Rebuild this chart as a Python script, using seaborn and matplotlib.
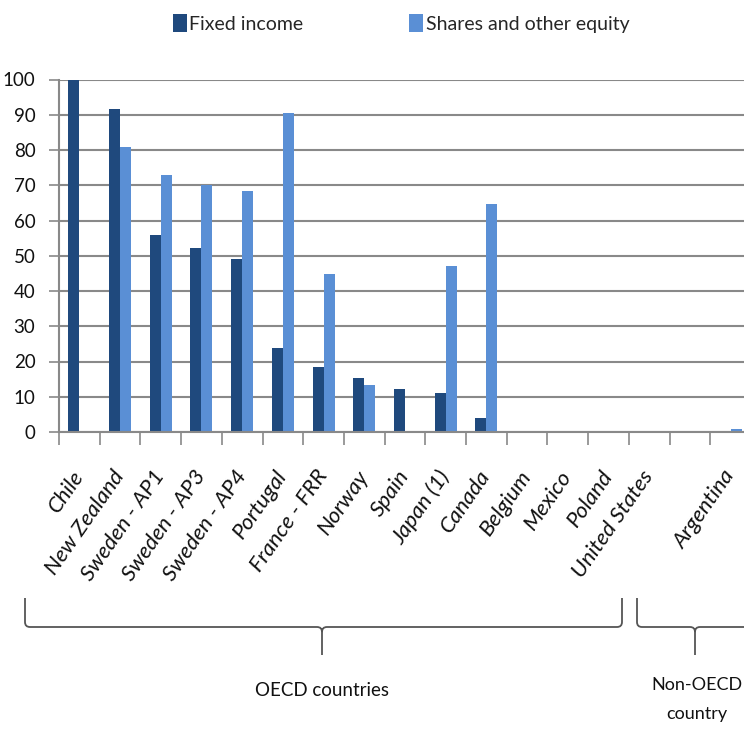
import numpy as np
import pandas as pd
import matplotlib
matplotlib.use("Agg")
import matplotlib.pyplot as plt
from matplotlib.path import Path
from matplotlib.patches import PathPatch
import seaborn as sns

# Pension fund asset allocation (% of total portfolio)
countries = ["Chile", "New Zealand", "Sweden - AP1", "Sweden - AP3", "Sweden - AP4",
             "Portugal", "France - FRR", "Norway", "Spain", "Japan (1)", "Canada",
             "Belgium", "Mexico", "Poland", "United States", " ", "Argentina"]
fixed_income = [100, 91.7, 56.0, 52.2, 49.1, 23.9, 18.5, 15.3, 12.2, 11.0, 4.0,
                0, 0, 0, 0, 0, 0]
shares_equity = [0, 80.9, 72.9, 70.0, 68.5, 90.5, 44.8, 13.3, 0, 47.0, 64.8,
                 0, 0, 0, 0, 0, 0.8]
series_names = ["Fixed income", "Shares and other equity"]
series_colors = ["#1f497d", "#5a8fd5"]
y_ticks = list(range(0, 101, 10))
group_labels = ["OECD countries", "Non-OECD\ncountry"]

df = pd.DataFrame({
    "country": countries * 2,
    "series": [series_names[0]] * len(countries) + [series_names[1]] * len(countries),
    "value": fixed_income + shares_equity,
})

sns.set_style("white")
plt.rcParams["font.family"] = ["Lato", "DejaVu Sans"]

W, H = 744, 732
fig = plt.figure(figsize=(W / 100, H / 100), dpi=100)
ax_left, ax_right, ax_top, ax_bottom = 59, 751, 79.5, 432
ax = fig.add_axes([ax_left / W, 1 - ax_bottom / H,
                   (ax_right - ax_left) / W, (ax_bottom - ax_top) / H])

sns.barplot(data=df, x="country", y="value", hue="series", order=countries,
            hue_order=series_names, palette=series_colors, width=0.54,
            linewidth=0, saturation=1, errorbar=None, ax=ax)

for bar in ax.patches:
    bar.set_clip_on(False)

n = len(countries)
ax.set_xlim(-0.5, n - 0.5)
ax.set_ylim(0, 100)
ax.set_yticks(y_ticks)
ax.set_xlabel("")
ax.set_ylabel("")

grid_col = "#898989"
ax.yaxis.grid(True, color=grid_col, linewidth=1.5)
ax.set_axisbelow(True)
for side in ["top", "right"]:
    ax.spines[side].set_visible(False)
for side in ["left", "bottom"]:
    ax.spines[side].set_color(grid_col)
    ax.spines[side].set_linewidth(1.5)

ax.tick_params(axis="y", which="major", length=7, width=1.2, color=grid_col,
               labelsize=13.5, pad=10, labelcolor="#111111", left=True)
ax.set_xticks(np.arange(-0.5, n, 1), minor=True)
ax.tick_params(axis="x", which="minor", length=9, width=1.2, color=grid_col,
               direction="out", bottom=True)
ax.tick_params(axis="x", which="major", length=0, pad=29, labelsize=16,
               labelcolor="#111111")
ax.set_xticks(range(n))
ax.set_xticklabels(countries, rotation=55, ha="right", va="center",
                   rotation_mode="anchor", style="italic")

# legend across the top
handles, labels = ax.get_legend_handles_labels()
ax.get_legend().remove()
fig.legend(handles, labels, loc="upper left",
           bbox_to_anchor=(165 / W, 1 - 6 / H), ncol=2, frameon=False,
           fontsize=14, handlelength=0.72, handleheight=1.1,
           handletextpad=0.12, columnspacing=5.45, borderaxespad=0)


def fig_xy(px, py):
    return (px / W, 1 - py / H)


def brace(x0, x1, xc, ytop, ymid, ytip, r=5):
    pts = [(x0, ytop), (x0, ymid - r), (x0, ymid), (x0 + r, ymid),
           (xc - r, ymid), (xc, ymid), (xc, ymid + r), (xc, ytip),
           (xc, ymid + r), (xc, ymid), (xc + r, ymid),
           (x1 - r, ymid), (x1, ymid), (x1, ymid - r), (x1, ytop)]
    codes = [Path.MOVETO, Path.LINETO, Path.CURVE3, Path.CURVE3,
             Path.LINETO, Path.CURVE3, Path.CURVE3, Path.LINETO,
             Path.MOVETO, Path.CURVE3, Path.CURVE3,
             Path.LINETO, Path.CURVE3, Path.CURVE3, Path.LINETO]
    path = Path([fig_xy(*p) for p in pts], codes)
    fig.patches.append(PathPatch(path, transform=fig.transFigure,
                                 facecolor="none", edgecolor="#555555",
                                 linewidth=1.3))


brace(25, 622, 322, 598, 627, 655)
brace(637, 760, 695, 598, 627, 655)

fig.text(*fig_xy(322, 690), group_labels[0], ha="center", va="center",
         fontsize=13.5, color="#111111")
fig.text(*fig_xy(697, 700), group_labels[1], ha="center", va="center",
         fontsize=13, color="#111111", linespacing=2.0)

fig.savefig("out.png", dpi=100)
